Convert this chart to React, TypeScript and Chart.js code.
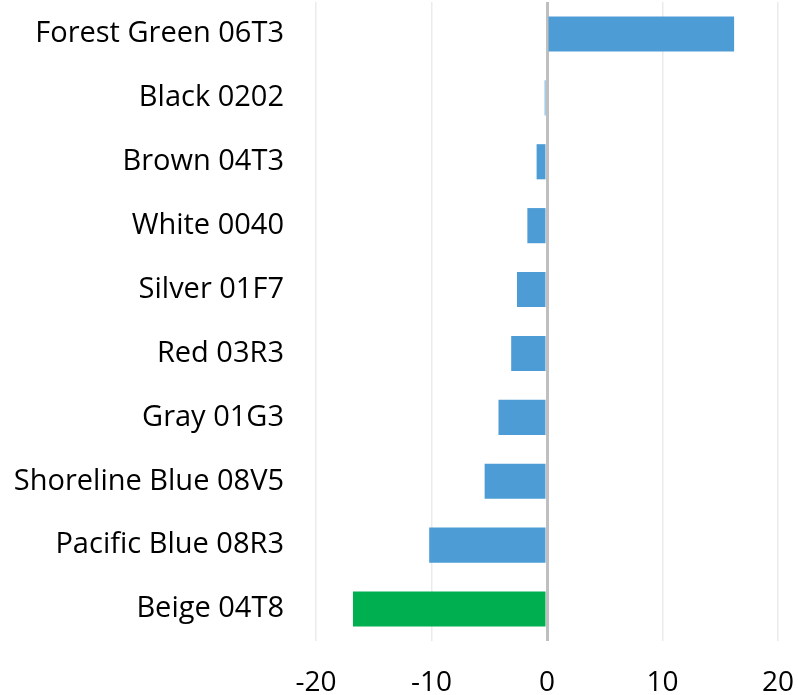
import React, { useEffect, useRef } from "react";
import { Chart, registerables } from "chart.js";

Chart.register(...registerables);

const categories = [
  "Forest Green 06T3",
  "Black 0202",
  "Brown 04T3",
  "White 0040",
  "Silver 01F7",
  "Red 03R3",
  "Gray 01G3",
  "Shoreline Blue 08V5",
  "Pacific Blue 08R3",
  "Beige 04T8",
];
const values = [16.2, -0.2, -0.9, -1.7, -2.6, -3.1, -4.2, -5.4, -10.2, -16.8];
const barColors = [
  "#4e9cd5", "#4e9cd5", "#4e9cd5", "#4e9cd5", "#4e9cd5",
  "#4e9cd5", "#4e9cd5", "#4e9cd5", "#4e9cd5", "#00b050",
];
const xMin = -20;
const xMax = 20;
const xStep = 10;

export default function App() {
  const ref = useRef<HTMLCanvasElement>(null);
  useEffect(() => {
    document.body.style.margin = "0";
    const chart = new Chart(ref.current!, {
      type: "bar",
      data: {
        labels: categories,
        datasets: [
          {
            data: values,
            backgroundColor: barColors,
            borderWidth: 0,
            categoryPercentage: 1,
            barPercentage: 0.55,
          },
        ],
      },
      options: {
        indexAxis: "y",
        animation: false,
        responsive: false,
        layout: { padding: { top: 2, right: 20, left: 0, bottom: 0 } },
        plugins: { legend: { display: false }, tooltip: { enabled: false } },
        scales: {
          x: {
            min: xMin,
            max: xMax,
            ticks: {
              stepSize: xStep,
              color: "#000000",
              font: { family: "Open Sans", size: 28 },
              padding: 25,
            },
            border: { display: false },
            grid: {
              drawTicks: false,
              color: (ctx: any) => (ctx.tick && ctx.tick.value === 0 ? "#bfbfbf" : "#ebebeb"),
              lineWidth: (ctx: any) => (ctx.tick && ctx.tick.value === 0 ? 3 : 1.5),
            },
            afterFit: (s: any) => {
              s.height = 54;
              s.paddingLeft = 0;
              s.paddingRight = 0;
            },
          },
          y: {
            ticks: {
              color: "#000000",
              font: { family: "Open Sans", size: 29 },
              padding: 32,
            },
            border: { display: false },
            grid: { display: false, drawTicks: false },
            afterFit: (s: any) => {
              s.width = 316;
              s.paddingTop = 0;
              s.paddingBottom = 0;
            },
          },
        },
      },
    });
    return () => chart.destroy();
  }, []);
  return (
    <div style={{ position: "absolute", left: 0, top: 0, width: 798, height: 695 }}>
      <canvas ref={ref} width={798} height={695} style={{ width: 798, height: 695 }} />
    </div>
  );
}
